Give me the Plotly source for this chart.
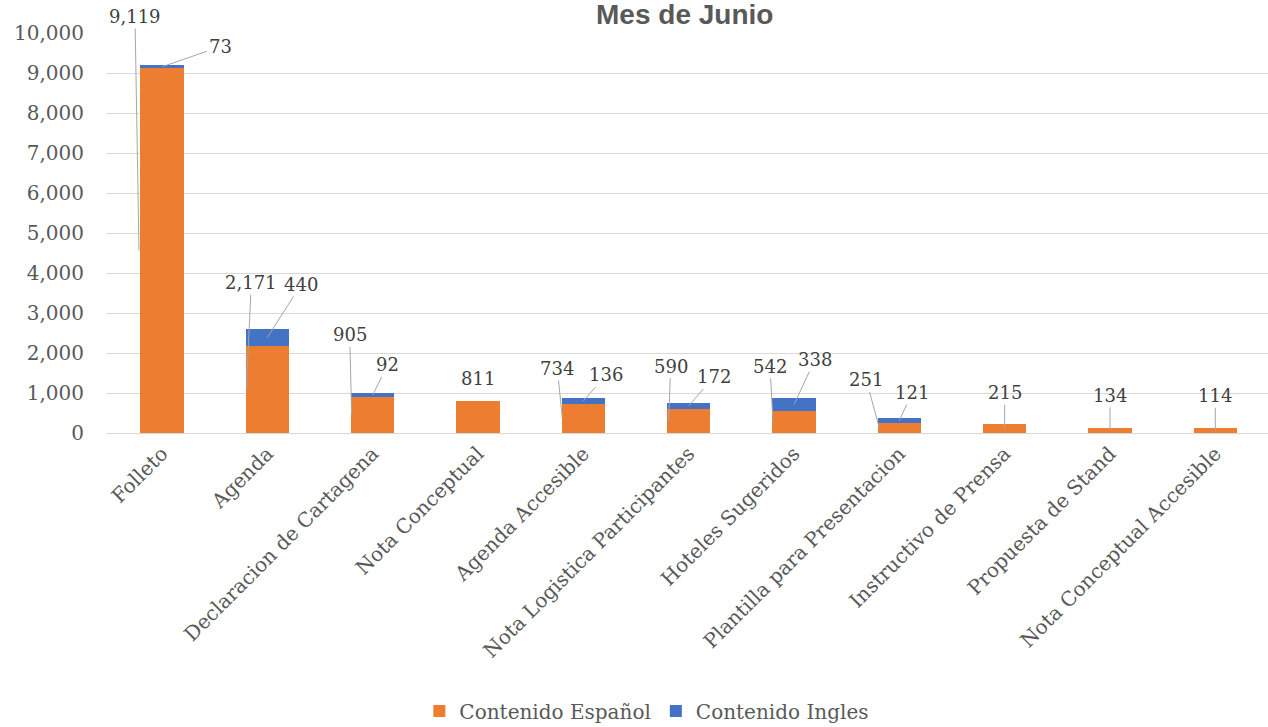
import plotly.graph_objects as go

categories = ["Folleto", "Agenda", "Declaracion de Cartagena", "Nota Conceptual",
              "Agenda Accesible", "Nota Logistica Participantes", "Hoteles Sugeridos",
              "Plantilla para Presentacion", "Instructivo de Prensa",
              "Propuesta de Stand", "Nota Conceptual Accesible"]
espanol = [9119, 2171, 905, 811, 734, 590, 542, 251, 215, 134, 114]
ingles = [73, 440, 92, None, 136, 172, 338, 121, None, None, None]
y_ticks = [0, 1000, 2000, 3000, 4000, 5000, 6000, 7000, 8000, 9000, 10000]

ORANGE = "#ED7D31"
BLUE = "#4472C4"
SERIF = "DejaVu Serif"

fig = go.Figure()
fig.add_trace(go.Bar(x=categories, y=espanol, name="Contenido Español",
                     marker=dict(color=ORANGE, line=dict(width=0))))
fig.add_trace(go.Bar(x=categories, y=[v if v is not None else 0 for v in ingles],
                     name="Contenido Ingles",
                     marker=dict(color=BLUE, line=dict(width=0))))

# label offsets (pixels): (xshift of anchor, ax, ay)
sp_off = [(-23, -4, -234), (-21, 5, -107), (-21, -2, -80), None, (-21, -5, -50),
          (-20, 2, -55), (-21, -3, -56), (-20, -13, -48), (0, 0, -36), (0, 0, -35), (0, 0, -35)]
en_off = [(0, 58, -20), (0, 34, -53), (0, 15, -30), None, (0, 23, -26),
          (0, 25, -29), (0, 21, -45), (0, 13, -28), None, None, None]

lab_font = dict(family=SERIF, size=18, color="#404040")
for i, c in enumerate(categories):
    s = espanol[i]
    if sp_off[i] is None:
        fig.add_annotation(x=c, y=s, text=f"{s:,}", showarrow=False, yanchor="bottom",
                           yshift=10, font=lab_font)
    else:
        xs, ax, ay = sp_off[i]
        fig.add_annotation(x=c, y=s / 2, text=f"{s:,}", showarrow=True, arrowhead=0,
                           arrowwidth=1, arrowcolor="#A6A6A6", standoff=0,
                           xshift=xs, ax=ax, ay=ay, font=lab_font)
    e = ingles[i]
    if e is not None:
        xs, ax, ay = en_off[i]
        fig.add_annotation(x=c, y=s + e / 2, text=f"{e:,}", showarrow=True, arrowhead=0,
                           arrowwidth=1, arrowcolor="#A6A6A6", standoff=0,
                           xshift=xs, ax=ax, ay=ay, font=lab_font)

fig.update_layout(
    barmode="stack",
    bargap=0.59,
    width=1268, height=727,
    margin=dict(l=107, r=0, t=33, b=294, autoexpand=False),
    plot_bgcolor="white", paper_bgcolor="white",
    title=dict(text="<b>Mes de Junio</b>", x=0.54, xanchor="center", y=0.98, yanchor="middle",
               font=dict(family="Liberation Sans", size=28, color="#595959")),
    legend=dict(orientation="h", x=0.465, xanchor="center", y=-0.695, yanchor="middle",
                font=dict(family=SERIF, size=20, color="#595959"),
                itemwidth=30, traceorder="normal"),
    xaxis=dict(tickangle=-45, tickfont=dict(family=SERIF, size=20, color="#595959"),
               showline=True, linecolor="#D9D9D9", ticks="", automargin=False),
    yaxis=dict(range=[0, 10000], tickvals=y_ticks, tickformat=",",
               tickfont=dict(family=SERIF, size=20, color="#595959"),
               gridcolor="#D9D9D9", zeroline=False, showline=False, ticks="",
               ticklabelstandoff=22, automargin=False),
)

fig.write_html("out.html", config={"displayModeBar": False},
               post_script="document.body.style.margin='0';document.body.style.overflow='hidden';")
